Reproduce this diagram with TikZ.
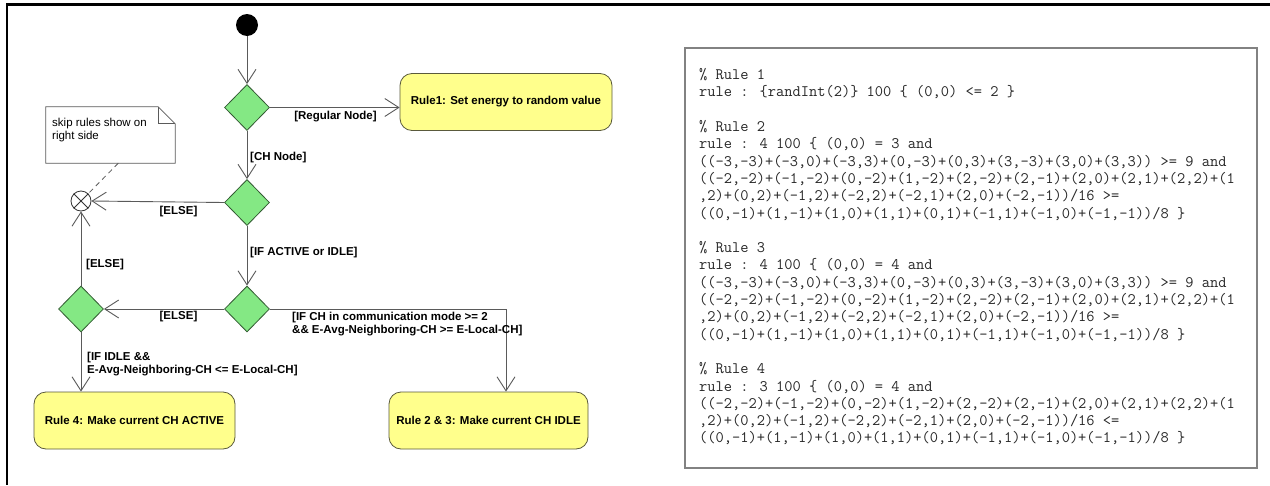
\documentclass[tikz,border=0pt]{standalone}
\usepackage{fontspec}
\setmainfont{Liberation Sans}
\usetikzlibrary{shapes.geometric,arrows.meta,calc}
\definecolor{dgreen}{RGB}{132,232,132}
\definecolor{dgreenline}{RGB}{50,90,50}
\definecolor{byellow}{RGB}{255,255,140}
\definecolor{byellowline}{RGB}{90,90,60}
\definecolor{conn}{RGB}{90,90,90}
\definecolor{codeframe}{RGB}{130,130,130}
\definecolor{codetext}{RGB}{40,40,40}
\begin{document}
\begin{tikzpicture}[x=1pt,y=-1pt,
  dec/.style={diamond, draw=dgreenline, fill=dgreen, minimum width=45pt, minimum height=46pt, inner sep=0pt, line width=0.8pt},
  act/.style={rectangle, rounded corners=12pt, draw=byellowline, fill=byellow, line width=0.8pt, minimum height=57pt, font=\fontsize{11.5}{13}\selectfont\bfseries},
  flow/.style={draw=conn, line width=0.9pt, -{Straight Barb[length=14pt,width=18pt]}},
  lab/.style={font=\fontsize{11.5}{12.7}\selectfont\bfseries, inner sep=0pt, text=black},
  notelab/.style={font=\fontsize{11.5}{13}\selectfont, inner sep=0pt, align=left},
  codelab/.style={font=\fontsize{16}{17.3}\selectfont\ttfamily, text=codetext, inner sep=0pt, align=left}
]
\useasboundingbox (0,0) rectangle (1270,485);
\fill[white] (0,0) rectangle (1270,485);
% outer frame
\draw[line width=2.3pt] (1270,4.5) -- (7,4.5) -- (7,485);

% code box
\node[draw=codeframe, line width=1.5pt, minimum width=572pt, minimum height=420pt, inner sep=0pt] (code) at (971,258) {};
\node[codelab, anchor=north west] (codetext) at (699,67.3) {\strut\% Rule 1\\
rule : \{randInt(2)\} 100 \{ (0,0) <= 2 \}\\[17.3pt]
\% Rule 2\\
rule : 4 100 \{ (0,0) = 3 and\\
((-3,-3)+(-3,0)+(-3,3)+(0,-3)+(0,3)+(3,-3)+(3,0)+(3,3)) >= 9 and\\
((-2,-2)+(-1,-2)+(0,-2)+(1,-2)+(2,-2)+(2,-1)+(2,0)+(2,1)+(2,2)+(1\\
,2)+(0,2)+(-1,2)+(-2,2)+(-2,1)+(2,0)+(-2,-1))/16 >=\\
((0,-1)+(1,-1)+(1,0)+(1,1)+(0,1)+(-1,1)+(-1,0)+(-1,-1))/8 \}\\[17.3pt]
\% Rule 3\\
rule : 4 100 \{ (0,0) = 4 and\\
((-3,-3)+(-3,0)+(-3,3)+(0,-3)+(0,3)+(3,-3)+(3,0)+(3,3)) >= 9 and\\
((-2,-2)+(-1,-2)+(0,-2)+(1,-2)+(2,-2)+(2,-1)+(2,0)+(2,1)+(2,2)+(1\\
,2)+(0,2)+(-1,2)+(-2,2)+(-2,1)+(2,0)+(-2,-1))/16 >=\\
((0,-1)+(1,-1)+(1,0)+(1,1)+(0,1)+(-1,1)+(-1,0)+(-1,-1))/8 \}\\[17.3pt]
\% Rule 4\\
rule : 3 100 \{ (0,0) = 4 and\\
((-2,-2)+(-1,-2)+(0,-2)+(1,-2)+(2,-2)+(2,-1)+(2,0)+(2,1)+(2,2)+(1\\
,2)+(0,2)+(-1,2)+(-2,2)+(-2,1)+(2,0)+(-2,-1))/16 <=\\
((0,-1)+(1,-1)+(1,0)+(1,1)+(0,1)+(-1,1)+(-1,0)+(-1,-1))/8 \}};

% activity diagram nodes
\node[circle, fill=black, minimum size=22pt, inner sep=0pt] (start) at (247,25) {};
\node[dec] (d1) at (247,107.5) {};
\node[dec] (d2) at (247,202.5) {};
\node[dec] (d3) at (247,309) {};
\node[dec] (d4) at (81,309) {};
\node[circle, draw=black!80, line width=0.8pt, minimum size=20pt, inner sep=0pt] (m) at (81,201) {};
\draw[black!80, line width=0.8pt] (m.north west) -- (m.south east) (m.north east) -- (m.south west);

\node[act, minimum width=212pt] (rule1) at (506,102) {Rule1: Set energy to random value};
\node[act, minimum width=201pt] (rule4) at (134.5,420.5) {Rule 4: Make current CH ACTIVE};
\node[act, minimum width=199pt] (rule23) at (488.5,420.5) {Rule 2 \& 3: Make current CH IDLE};

% note
\node[minimum width=129pt, minimum height=56pt, inner sep=0pt] (note) at (110.5,135) {};
\draw[conn, line width=0.8pt, fill=white] (note.south west) -- (note.north west) -- ([xshift=-17pt]note.north east) -- ([yshift=-17pt]note.north east) -- (note.south east) -- cycle;
\draw[conn, line width=0.8pt] ([xshift=-17pt]note.north east) -- ++(0,17) -- ([yshift=-17pt]note.north east);
\node[notelab, anchor=north west] (notetext) at (52,117.5) {skip rules show on\\right side};
\coordinate (notefoot) at ($(note.south west)!0.56!(note.south east)$);
\draw[conn, line width=0.8pt, dashed, dash pattern=on 5pt off 4pt] (notefoot) -- (m);

% connectors
\draw[flow] (start) -- (d1.north);
\draw[flow] (d1.east) -- (d1.east -| rule1.west);
\draw[flow] (d1.south) -- (d2.north);
\draw[flow] (d2.west) -- (m.east);
\draw[flow] (d2.south) -- (d3.north);
\draw[flow] (d3.west) -- (d4.east);
\draw[flow] (d4.north) -- (m.south);
\draw[flow] (d4.south) -- (d4.south |- rule4.north);
\draw[flow] (d3.east) -| ([xshift=17.5pt]rule23.north);

% labels
\node[lab] (lreg) at (335.5,117) {[Regular Node]};
\node[lab, anchor=west] (lch) at (250,158) {[CH Node]};
\node[lab] (lelse1) at (178.5,212) {[ELSE]};
\node[lab, anchor=west] (lact) at (250,253) {[IF ACTIVE or IDLE]};
\node[lab, anchor=west] (lelse2) at (86,265) {[ELSE]};
\node[lab] (lelse3) at (178.5,317) {[ELSE]};
\node[lab, anchor=north west, align=left] (lcomm) at (292,311.8) {[IF CH in communication mode >= 2\\\&\& E-Avg-Neighboring-CH >= E-Local-CH]};
\node[lab, anchor=north west, align=left] (lidle) at (87,351.8) {[IF IDLE \&\&\\E-Avg-Neighboring-CH <= E-Local-CH]};
\end{tikzpicture}
\end{document}
